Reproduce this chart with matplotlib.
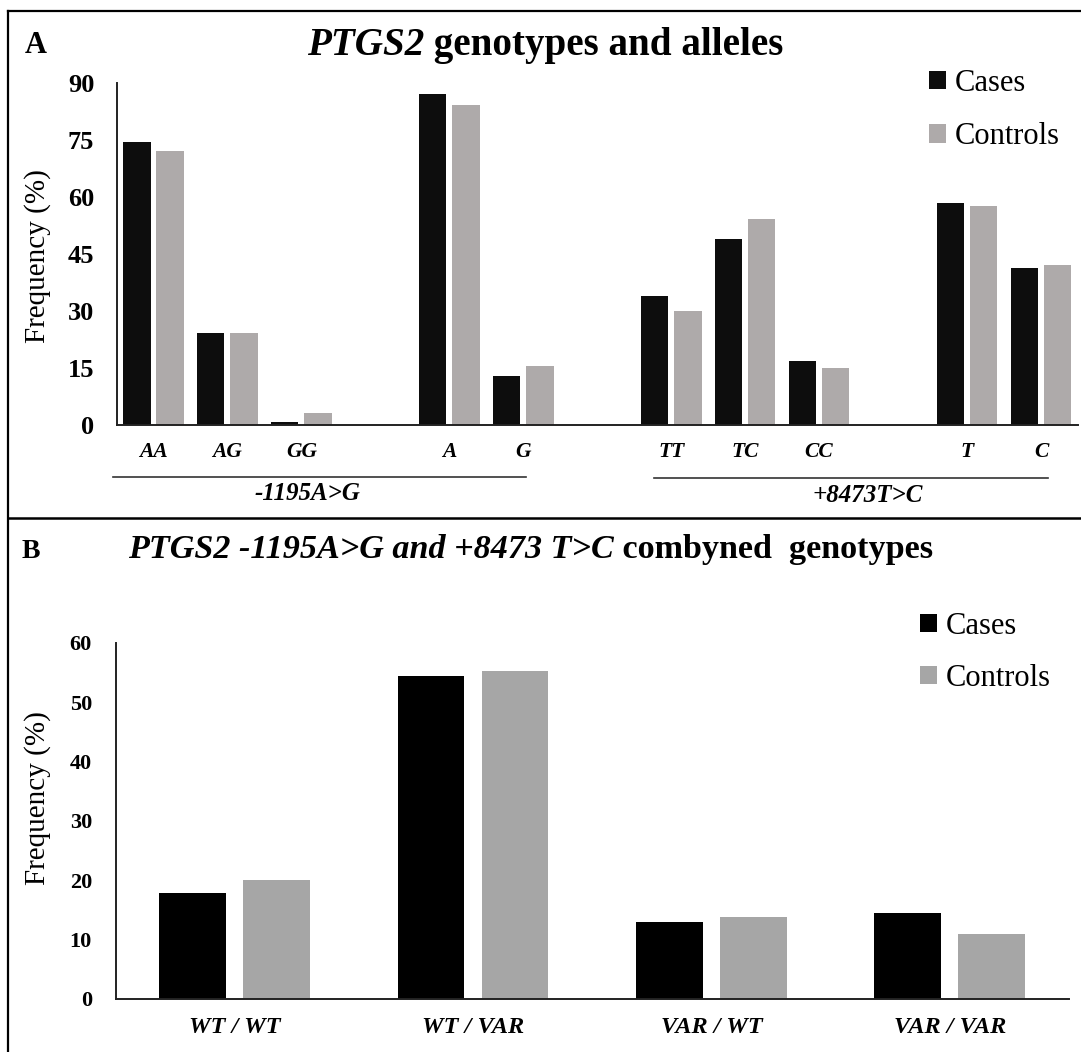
import numpy as np
import matplotlib
matplotlib.use('Agg')
import matplotlib.pyplot as plt
from matplotlib.lines import Line2D
from matplotlib.patches import Patch
from matplotlib.transforms import blended_transform_factory

plt.rcParams['font.family'] = 'Liberation Serif'

# panel A: genotypes and alleles (blank slots separate the groups)
cats_a = ['AA', 'AG', 'GG', '', 'A', 'G', '', 'TT', 'TC', 'CC', '', 'T', 'C']
cases_a = [74.6, 24.1, 0.9, np.nan, 87.0, 12.9, np.nan, 33.9, 48.9, 16.8, np.nan, 58.3, 41.3]
controls_a = [72.1, 24.1, 3.1, np.nan, 84.1, 15.6, np.nan, 30.1, 54.1, 15.0, np.nan, 57.5, 42.0]
groups_a = ['-1195A>G', '+8473T>C']
yticks_a = [0, 15, 30, 45, 60, 75, 90]

# panel B: combined genotypes
cats_b = ['WT / WT', 'WT / VAR', 'VAR / WT', 'VAR / VAR']
cases_b = [17.8, 54.4, 12.9, 14.5]
controls_b = [20.0, 55.2, 13.8, 11.0]
yticks_b = [0, 10, 20, 30, 40, 50, 60]

series = ['Cases', 'Controls']

W, H = 1081, 1052
def fx(x):
    return x / W
def fy(y):
    return 1 - y / H

fig = plt.figure(figsize=(W / 100, H / 100), dpi=100)
renderer = fig.canvas.get_renderer()


def rich_text(x, y, parts, size):
    # parts: list of (text, style, weight); x,y in pixels (left, baseline)
    cur = x
    for s, style, weight in parts:
        t = fig.text(fx(cur), fy(y), s, fontsize=size, style=style,
                     weight=weight, va='baseline', ha='left')
        cur += t.get_window_extent(renderer).width


def style_axes(ax):
    for side in ['top', 'right']:
        ax.spines[side].set_visible(False)
    for side in ['left', 'bottom']:
        ax.spines[side].set_linewidth(1.4)
        ax.spines[side].set_color('#222222')
    ax.tick_params(length=0)


# ---- panel A
ax1 = fig.add_axes([fx(116.5), fy(425), fx(1078) - fx(116.5), (425 - 83) / H])
xa = np.arange(len(cats_a))
ax1.bar(xa - 0.225, cases_a, 0.37, color='#0d0d0d')
ax1.bar(xa + 0.225, controls_a, 0.37, color='#aeaaaa')
ax1.set_xlim(-0.5, len(cats_a) - 0.5)
ax1.set_ylim(0, 90)
ax1.set_yticks(yticks_a)
ax1.set_yticklabels([str(v) for v in yticks_a], fontsize=19, weight='bold')
ax1.set_xticks(xa)
ax1.set_xticklabels(cats_a, fontsize=15.5, weight='bold', style='italic')
ax1.tick_params(axis='y', pad=16)
ax1.tick_params(axis='x', pad=12)
style_axes(ax1)

tr = blended_transform_factory(ax1.transData, fig.transFigure)
ax1.plot([-0.55, 5.03], [fy(477), fy(477)], transform=tr, color='#333333', lw=1.2, clip_on=False)
ax1.plot([6.77, 12.1], [fy(478), fy(478)], transform=tr, color='#333333', lw=1.2, clip_on=False)
ax1.text(2.08, fy(493), groups_a[0], transform=tr, ha='center', va='center',
         fontsize=18, weight='bold', style='italic')
ax1.text(9.66, fy(495), groups_a[1], transform=tr, ha='center', va='center',
         fontsize=18, weight='bold', style='italic')

fig.text(fx(38), fy(256), 'Frequency (%)', rotation=90, ha='center', va='center', fontsize=21)
fig.text(fx(25), fy(53), 'A', fontsize=22, weight='bold', va='baseline')
rich_text(307, 55, [('PTGS2', 'italic', 'bold'), (' genotypes and alleles', 'normal', 'bold')], 28.2)

ax1.legend(handles=[Patch(facecolor='#0d0d0d'), Patch(facecolor='#aeaaaa')], labels=series,
           loc='upper left', bbox_to_anchor=(fx(929), fy(69)), bbox_transform=fig.transFigure,
           frameon=False, fontsize=22, handlelength=0.55, handleheight=0.55,
           handletextpad=0.3, labelspacing=0.8, borderpad=0, borderaxespad=0)

# ---- panel B
ax2 = fig.add_axes([fx(115.5), fy(999), fx(1069) - fx(115.5), (999 - 643) / H])
xb = np.arange(len(cats_b))
ax2.bar(xb - 0.176, cases_b, 0.28, color='#000000')
ax2.bar(xb + 0.176, controls_b, 0.28, color='#a6a6a6')
ax2.set_xlim(-0.5, len(cats_b) - 0.5)
ax2.set_ylim(0, 60)
ax2.set_yticks(yticks_b)
ax2.set_yticklabels([str(v) for v in yticks_b], fontsize=16, weight='bold')
ax2.set_xticks(xb)
ax2.set_xticklabels(cats_b, fontsize=17.5, weight='bold', style='italic')
ax2.tick_params(axis='y', pad=17)
ax2.tick_params(axis='x', pad=13)
style_axes(ax2)

fig.text(fx(38), fy(798), 'Frequency (%)', rotation=90, ha='center', va='center', fontsize=21)
fig.text(fx(22), fy(558), 'B', fontsize=20, weight='bold', va='baseline')
rich_text(128, 558, [('PTGS2 -1195A>G and +8473 T>C', 'italic', 'bold'),
                     (' combyned  genotypes', 'normal', 'bold')], 24.6)

ax2.legend(handles=[Patch(facecolor='#000000'), Patch(facecolor='#a6a6a6')], labels=series,
           loc='upper left', bbox_to_anchor=(fx(920), fy(612)), bbox_transform=fig.transFigure,
           frameon=False, fontsize=22, handlelength=0.55, handleheight=0.55,
           handletextpad=0.3, labelspacing=0.75, borderpad=0, borderaxespad=0)

# frame lines around the panels
fig.add_artist(Line2D([fx(8), fx(8)], [fy(11), 0], color='black', lw=1.6))
fig.add_artist(Line2D([fx(8), 1], [fy(11), fy(11)], color='black', lw=1.6))
fig.add_artist(Line2D([fx(8), 1], [fy(518), fy(518)], color='black', lw=1.8))

fig.savefig('out.png', dpi=100)
